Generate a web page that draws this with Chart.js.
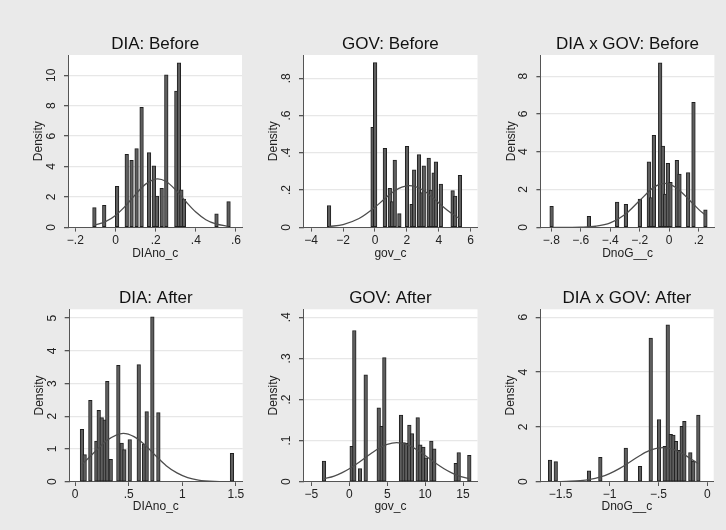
<!DOCTYPE html>
<html><head><meta charset="utf-8">
<script src="https://cdn.jsdelivr.net/npm/chart.js@4/dist/chart.umd.min.js"></script>
<style>
html,body{margin:0;padding:0;background:#eaeaea;}
#wrap{position:relative;width:726px;height:530px;overflow:hidden;background:#eaeaea;}
canvas{position:absolute;left:0;top:0;}
</style></head><body><div id="wrap">
<canvas id="c1" width="726" height="530"></canvas>
<canvas id="c2" width="726" height="530"></canvas>
<canvas id="c3" width="726" height="530"></canvas>
<canvas id="c4" width="726" height="530"></canvas>
<canvas id="c5" width="726" height="530"></canvas>
<canvas id="c6" width="726" height="530"></canvas>
</div>
<script>
// ---- data ----
const panelTitles = ["DIA: Before", "GOV: Before", "DIA x GOV: Before", "DIA: After", "GOV: After", "DIA x GOV: After"];
const xAxisTitles = ["DIAno_c", "gov_c", "DnoG__c", "DIAno_c", "gov_c", "DnoG__c"];
const yAxisTitle = "Density";

// Panel 1: DIA Before
const p1BinX = [-0.105, -0.056, 0.008, 0.056, 0.080, 0.105, 0.130, 0.167, 0.191, 0.206, 0.230, 0.253, 0.303, 0.316, 0.328, 0.341, 0.503, 0.563];
const p1Density = [1.29, 1.45, 2.70, 4.80, 4.41, 5.18, 7.89, 4.91, 4.04, 2.06, 2.57, 10.04, 8.97, 10.83, 2.46, 1.86, 0.88, 1.69];
const p1CurveX = [-0.105, -0.05, 0, 0.05, 0.1, 0.15, 0.21, 0.25, 0.3, 0.35, 0.4, 0.45, 0.5, 0.563];
const p1CurveY = [0.13, 0.37, 0.78, 1.41, 2.17, 2.84, 3.19, 3.03, 2.46, 1.70, 1.00, 0.50, 0.22, 0.06];
const p1XTicks = [-0.2, 0, 0.2, 0.4, 0.6];
const p1XLabels = ["\u2212.2", "0", ".2", ".4", ".6"];
const p1YTicks = [0, 2, 4, 6, 8, 10];
const p1YLabels = ["0", "2", "4", "6", "8", "10"];

// Panel 2: GOV Before
const p2BinX = [-2.88, -0.15, 0.01, 0.62, 0.93, 1.08, 1.24, 1.53, 2.01, 2.30, 2.46, 2.76, 2.93, 3.06, 3.37, 3.51, 3.68, 3.82, 4.13, 4.87, 5.03, 5.33];
const p2Density = [0.117, 0.537, 0.884, 0.424, 0.209, 0.138, 0.361, 0.073, 0.435, 0.123, 0.308, 0.390, 0.186, 0.330, 0.371, 0.200, 0.293, 0.352, 0.232, 0.197, 0.168, 0.279];
const p2CurveX = [-2.88, -2, -1, 0, 0.5, 1, 1.5, 2.15, 2.5, 3, 3.5, 4, 4.5, 5, 5.33];
const p2CurveY = [0.004, 0.015, 0.047, 0.108, 0.145, 0.182, 0.209, 0.224, 0.220, 0.200, 0.168, 0.131, 0.094, 0.063, 0.045];
const p2XTicks = [-4, -2, 0, 2, 4, 6];
const p2XLabels = ["\u22124", "\u22122", "0", "2", "4", "6"];
const p2YTicks = [0, 0.2, 0.4, 0.6, 0.8];
const p2YLabels = ["0", ".2", ".4", ".6", ".8"];

// Panel 3: DIA x GOV Before
const p3BinX = [-0.798, -0.545, -0.353, -0.294, -0.199, -0.138, -0.122, -0.104, -0.061, -0.043, -0.027, -0.009, 0.009, 0.052, 0.070, 0.129, 0.165, 0.246];
const p3Density = [1.11, 0.58, 1.34, 1.22, 1.50, 3.46, 1.57, 4.87, 8.71, 4.30, 1.76, 3.39, 2.38, 3.54, 2.82, 2.89, 6.61, 0.93];
const p3CurveX = [-0.798, -0.7, -0.6, -0.5, -0.4, -0.3, -0.2, -0.1, -0.03, 0.05, 0.1, 0.15, 0.2, 0.246];
const p3CurveY = [0.0001, 0.001, 0.01, 0.056, 0.229, 0.677, 1.42, 2.14, 2.32, 2.08, 1.74, 1.34, 0.95, 0.64];
const p3XTicks = [-0.8, -0.6, -0.4, -0.2, 0, 0.2];
const p3XLabels = ["\u2212.8", "\u2212.6", "\u2212.4", "\u2212.2", "0", ".2"];
const p3YTicks = [0, 2, 4, 6, 8];
const p3YLabels = ["0", "2", "4", "6", "8"];

// Panel 4: DIA After
const p4BinX = [0.065, 0.090, 0.143, 0.199, 0.221, 0.249, 0.277, 0.301, 0.333, 0.404, 0.435, 0.460, 0.510, 0.594, 0.643, 0.668, 0.721, 0.777, 1.463];
const p4Density = [1.60, 0.83, 2.49, 1.24, 2.18, 1.96, 1.89, 3.07, 0.68, 3.56, 1.18, 0.98, 1.29, 3.58, 1.15, 2.14, 5.04, 2.11, 0.87];
const p4CurveX = [0.065, 0.1, 0.2, 0.3, 0.45, 0.55, 0.65, 0.75, 0.85, 0.95, 1.05, 1.15, 1.3, 1.463];
const p4CurveY = [0.53, 0.64, 0.96, 1.27, 1.48, 1.38, 1.13, 0.80, 0.49, 0.27, 0.125, 0.051, 0.010, 0.001];
const p4XTicks = [0, 0.5, 1, 1.5];
const p4XLabels = ["0", ".5", "1", "1.5"];
const p4YTicks = [0, 1, 2, 3, 4, 5];
const p4YLabels = ["0", "1", "2", "3", "4", "5"];

// Panel 5: GOV After
const p5BinX = [-3.34, 0.31, 0.66, 1.41, 2.16, 3.88, 4.27, 4.62, 6.82, 7.17, 7.52, 7.92, 8.27, 9.02, 9.37, 9.77, 10.12, 10.82, 11.21, 14.04, 14.43, 15.83];
const p5Density = [0.050, 0.086, 0.368, 0.032, 0.260, 0.180, 0.135, 0.302, 0.162, 0.095, 0.094, 0.138, 0.117, 0.156, 0.090, 0.084, 0.058, 0.099, 0.080, 0.045, 0.071, 0.064];
const p5CurveX = [-3.34, -2, -1, 0, 1, 2, 3, 4, 5, 6.25, 7.5, 8.5, 9.5, 10.5, 11.5, 12.5, 13.5, 14.5, 15.83];
const p5CurveY = [0.0070, 0.0138, 0.0214, 0.0314, 0.0435, 0.0569, 0.0704, 0.0823, 0.0909, 0.095, 0.0909, 0.0823, 0.0704, 0.0569, 0.0435, 0.0314, 0.0214, 0.0138, 0.0070];
const p5XTicks = [-5, 0, 5, 10, 15];
const p5XLabels = ["\u22125", "0", "5", "10", "15"];
const p5YTicks = [0, 0.1, 0.2, 0.3, 0.4];
const p5YLabels = ["0", ".1", ".2", ".3", ".4"];

// Panel 6: DIA x GOV After
const p6BinX = [-1.608, -1.550, -1.210, -1.094, -0.834, -0.688, -0.579, -0.494, -0.436, -0.405, -0.374, -0.347, -0.320, -0.289, -0.262, -0.235, -0.174, -0.143, -0.092];
const p6Density = [0.79, 0.73, 0.40, 0.89, 1.23, 0.56, 5.24, 2.27, 1.29, 5.72, 1.73, 1.70, 1.47, 1.14, 2.02, 2.20, 1.06, 0.75, 2.43];
const p6CurveX = [-1.608, -1.5, -1.4, -1.3, -1.2, -1.1, -1.0, -0.9, -0.8, -0.7, -0.6, -0.455, -0.35, -0.25, -0.15, -0.092];
const p6CurveY = [0.002, 0.006, 0.017, 0.040, 0.085, 0.167, 0.296, 0.477, 0.699, 0.928, 1.121, 1.24, 1.176, 1.013, 0.792, 0.657];
const p6XTicks = [-1.5, -1, -0.5, 0];
const p6XLabels = ["\u22121.5", "\u22121", "\u2212.5", "0"];
const p6YTicks = [0, 2, 4, 6];
const p6YLabels = ["0", "2", "4", "6"];

// ---- layout / style ----
const FONT = '"Liberation Sans", Arial, Helvetica, sans-serif';
const W = 726, H = 530;
const Y_AXIS_W = 40, X_AXIS_H = 34;

const panels = [
  {id:'c1', t:0, area:{l:68.3, t:55, r:242, b:227.3}, xMin:-0.235, xMax:0.630, yMax:11.34, bx:p1BinX, by:p1Density, cx:p1CurveX, cy:p1CurveY, xt:p1XTicks, xl:p1XLabels, yt:p1YTicks, yl:p1YLabels, titleBase:49.3, xtPad:0.8},
  {id:'c2', t:1, area:{l:303.3, t:55, r:477.5, b:227.3}, xMin:-4.495, xMax:6.43, yMax:0.925, bx:p2BinX, by:p2Density, cx:p2CurveX, cy:p2CurveY, xt:p2XTicks, xl:p2XLabels, yt:p2YTicks, yl:p2YLabels, titleBase:49.3, xtPad:0.8},
  {id:'c3', t:2, area:{l:540.7, t:55, r:714.4, b:227.3}, xMin:-0.872, xMax:0.307, yMax:9.12, bx:p3BinX, by:p3Density, cx:p3CurveX, cy:p3CurveY, xt:p3XTicks, xl:p3XLabels, yt:p3YTicks, yl:p3YLabels, titleBase:49.3, xtPad:0.8},
  {id:'c4', t:3, area:{l:69, t:309.3, r:242.7, b:481.7}, xMin:-0.056, xMax:1.563, yMax:5.27, bx:p4BinX, by:p4Density, cx:p4CurveX, cy:p4CurveY, xt:p4XTicks, xl:p4XLabels, yt:p4YTicks, yl:p4YLabels, titleBase:302.8, xtPad:1.8},
  {id:'c5', t:4, area:{l:303.3, t:309.3, r:477.5, b:481.7}, xMin:-6.07, xMax:16.91, yMax:0.4195, bx:p5BinX, by:p5Density, cx:p5CurveX, cy:p5CurveY, xt:p5XTicks, xl:p5XLabels, yt:p5YTicks, yl:p5YLabels, titleBase:302.8, xtPad:1.8},
  {id:'c6', t:5, area:{l:540, t:309.3, r:713.7, b:481.7}, xMin:-1.711, xMax:0.065, yMax:6.29, bx:p6BinX, by:p6Density, cx:p6CurveX, cy:p6CurveY, xt:p6XTicks, xl:p6XLabels, yt:p6YTicks, yl:p6YLabels, titleBase:302.8, xtPad:1.8}
];

const plotBg = {
  id:'plotBg',
  beforeDraw(chart){
    const a = chart.chartArea, c = chart.ctx;
    c.save(); c.fillStyle = '#ffffff'; c.fillRect(a.left, a.top, a.right - a.left, a.bottom - a.top); c.restore();
  }
};

function makePanel(p){
  const extras = {
    id:'extras',
    afterDraw(chart){
      const c = chart.ctx, a = chart.chartArea, ys = chart.scales.y;
      c.save();
      c.fillStyle = '#111';
      c.font = '17px ' + FONT;
      c.textAlign = 'center'; c.textBaseline = 'alphabetic';
      c.fillText(panelTitles[p.t], (a.left + a.right) / 2, p.titleBase);
      c.font = '12px ' + FONT;
      c.fillStyle = '#222';
      p.yt.forEach((v, i) => {
        const py = ys.getPixelForValue(v);
        c.save();
        c.translate(a.left - 13.5, py);
        c.rotate(-Math.PI / 2);
        c.textAlign = 'center'; c.textBaseline = 'alphabetic';
        c.fillText(p.yl[i], 0, 0);
        c.restore();
      });
      c.restore();
    }
  };
  new Chart(document.getElementById(p.id), {
    type:'bar',
    data:{ datasets:[
      { type:'line', data:p.cx.map((x, i) => ({x:x, y:p.cy[i]})), borderColor:'#4d4d4d', borderWidth:1.3, pointRadius:0, fill:false, cubicInterpolationMode:'monotone', order:0 },
      { type:'bar', data:p.bx.map((x, i) => ({x:x, y:p.by[i]})), backgroundColor:'#5f5f5f', borderColor:'#1f1f1f', borderWidth:1, borderSkipped:false, barThickness:3.6, order:1 }
    ]},
    options:{
      responsive:false, animation:false, devicePixelRatio:1,
      events:[],
      layout:{ padding:{ left:p.area.l - Y_AXIS_W, top:p.area.t, right:W - p.area.r, bottom:H - p.area.b - X_AXIS_H } },
      plugins:{ legend:{display:false}, tooltip:{enabled:false}, title:{display:false} },
      scales:{
        x:{ type:'linear', min:p.xMin, max:p.xMax, offset:false,
          afterBuildTicks: ax => { ax.ticks = p.xt.map(v => ({value:v})); },
          afterFit: ax => { ax.height = X_AXIS_H; },
          ticks:{ autoSkip:false, maxRotation:0, minRotation:0, padding:1.5, color:'#222', font:{family:FONT, size:12}, callback:(v, i) => p.xl[i] },
          grid:{ offset:false, drawOnChartArea:false, drawTicks:true, tickLength:4.3, color:'#555', lineWidth:1 },
          border:{ display:true, color:'#555', width:1 },
          title:{ display:true, text:xAxisTitles[p.t], color:'#222', font:{family:FONT, size:12}, padding:{top:0, bottom:p.xtPad} }
        },
        y:{ type:'linear', min:0, max:p.yMax,
          afterBuildTicks: ax => { ax.ticks = p.yt.map(v => ({value:v})); },
          afterFit: ax => { ax.width = Y_AXIS_W; },
          ticks:{ display:false },
          grid:{ drawOnChartArea:true, drawTicks:true, tickLength:4.3, color:'#e7e7e7', tickColor:'#555', lineWidth:1.3 },
          border:{ display:true, color:'#555', width:1 },
          title:{ display:true, text:yAxisTitle, color:'#222', font:{family:FONT, size:12}, padding:{top:3.5, bottom:0} }
        }
      }
    },
    plugins:[plotBg, extras]
  });
}
panels.forEach(makePanel);
</script>
</body></html>
